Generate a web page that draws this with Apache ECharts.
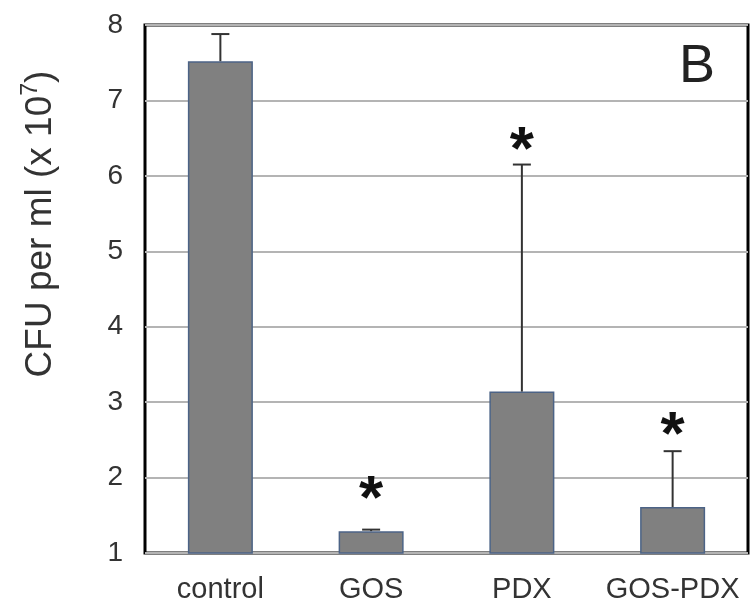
<!DOCTYPE html>
<html>
<head>
<meta charset="utf-8">
<script src="https://cdn.jsdelivr.net/npm/echarts@6/dist/echarts.min.js"></script>
<style>
  html, body { margin: 0; padding: 0; background: #fff; }
  #chart { width: 752px; height: 614px; }
</style>
</head>
<body>
<div id="chart"></div>
<script>
const categories = ['control', 'GOS', 'PDX', 'GOS-PDX'];
const means = [7.52, 1.29, 3.14, 1.61];
const errorTops = [7.88, 1.31, 6.15, 2.35];
const asteriskY = [null, 1.87, 6.5, 2.73];
const yTicks = { min: 1, max: 8, interval: 1 };
const panelLabel = 'B';

const chart = echarts.init(document.getElementById('chart'));
const FONT = '"Liberation Sans", Arial, sans-serif';

const option = {
  animation: false,
  backgroundColor: '#ffffff',
  grid: {
    left: 145, right: 4, top: 25, bottom: 61,
    show: true, borderColor: '#000', borderWidth: 3, backgroundColor: 'transparent'
  },
  xAxis: {
    type: 'category',
    data: categories,
    axisLine: { show: false },
    axisTick: { show: false },
    axisLabel: { color: '#333', fontFamily: FONT, fontSize: 29, margin: 22, interval: 0, hideOverlap: false }
  },
  yAxis: {
    type: 'value',
    min: yTicks.min, max: yTicks.max, interval: yTicks.interval,
    axisLine: { show: false },
    axisTick: { show: false },
    splitLine: { lineStyle: { color: '#b4b4b4', width: 2 } },
    axisLabel: { color: '#333', fontFamily: FONT, fontSize: 28, margin: 22 }
  },
  graphic: [
    {
      type: 'text',
      x: 38, y: 224,
      rotation: Math.PI / 2,
      style: {
        text: '{a|CFU per ml (x 10}{s|7}{a|)}',
        align: 'center',
        verticalAlign: 'middle',
        rich: {
          a: { fontFamily: FONT, fontSize: 37, fill: '#333', lineHeight: 42, verticalAlign: 'bottom' },
          s: { fontFamily: FONT, fontSize: 23, fill: '#333', lineHeight: 42, verticalAlign: 'top', padding: [2, 0, 0, 0] }
        }
      }
    },
    {
      type: 'text',
      x: 697, y: 67,
      style: {
        text: panelLabel,
        align: 'center',
        verticalAlign: 'middle',
        fontFamily: FONT, fontSize: 54, fill: '#222'
      }
    }
  ],
  series: [
    {
      type: 'bar',
      data: means,
      barWidth: 65,
      z: 2,
      itemStyle: { color: '#808080', borderColor: '#4c6386', borderWidth: 1.5 }
    },
    {
      type: 'custom',
      z: 3,
      data: means.map((m, i) => [i, m, errorTops[i]]),
      renderItem: function (params, api) {
        const i = api.value(0);
        const p0 = api.coord([i, api.value(1)]);
        const p1 = api.coord([i, api.value(2)]);
        const cap = 9;
        return {
          type: 'group',
          children: [
            { type: 'line', shape: { x1: p0[0], y1: p0[1], x2: p1[0], y2: p1[1] }, style: { stroke: '#333', lineWidth: 2 } },
            { type: 'line', shape: { x1: p1[0] - cap, y1: p1[1], x2: p1[0] + cap, y2: p1[1] }, style: { stroke: '#333', lineWidth: 2 } }
          ]
        };
      }
    },
    {
      type: 'custom',
      z: 4,
      data: asteriskY.map((v, i) => [i, v]).filter(d => d[1] !== null),
      renderItem: function (params, api) {
        const p = api.coord([api.value(0), api.value(1)]);
        return {
          type: 'text',
          x: p[0], y: p[1] + 14,
          style: {
            text: '*', align: 'center', verticalAlign: 'middle',
            fontFamily: FONT, fontWeight: 'bold', fontSize: 62, fill: '#111'
          }
        };
      }
    }
  ]
};
chart.setOption(option);
</script>
</body>
</html>
